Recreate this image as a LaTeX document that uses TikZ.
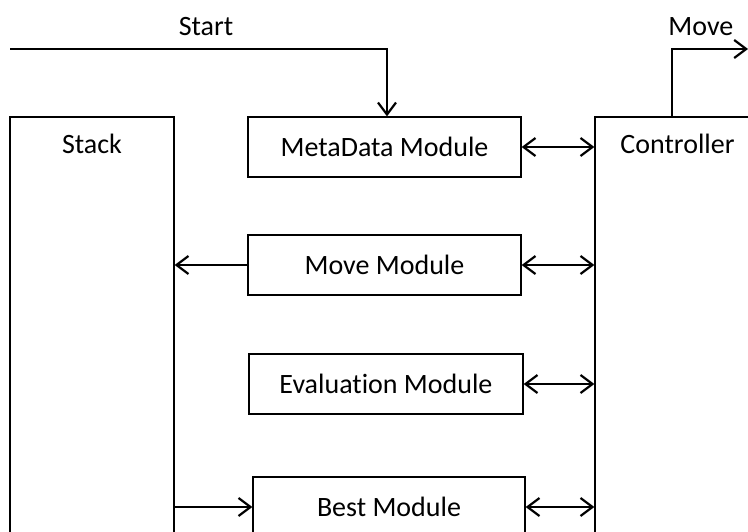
\documentclass[tikz,border=0pt]{standalone}
\usepackage{fontspec}
\setmainfont{Carlito}[Ligatures=NoCommon]
\usetikzlibrary{arrows.meta, positioning}

\tikzset{
  module/.style={draw, rectangle, line width=0.65pt, minimum width=136.5pt, minimum height=30pt, inner sep=0pt},
  unit/.style={draw, rectangle, line width=0.65pt, minimum height=221.5pt, inner sep=0pt},
  link/.style={line width=1.1pt}
}

\begin{document}
\begin{tikzpicture}[x=0.5pt, y=-0.5pt, font=\fontsize{14}{17}\selectfont, >={Straight Barb[length=6pt,width=9pt]}]
            \useasboundingbox (0,0) rectangle (748,531);
            \clip (0,0) rectangle (748,531);

            \node (stack) [unit, minimum width=82pt, label={[anchor=center,yshift=-14pt]north:Stack}] at (92,338.5) {};
            \node (ctrl) [unit, minimum width=82.5pt, label={[anchor=center,yshift=-14pt]north:Controller}] at (677.5,338.5) {};

            \node (meta) [module] at (384.5,147) {MetaData Module};
            \node (move) [module] at (384.5,265) {Move Module};
            \node (eval) [module, minimum width=137pt] at (386,384) {Evaluation Module};
            \node (best) [module, minimum width=136pt] at (389,507) {Best Module};

            \coordinate (startin) at (10,49);
            \coordinate (moveout) at (748,49);

            \draw[->,link] (startin) -| ([xshift=1.25pt]meta.north) node[pos=0.26,above=3pt] {Start};
            \draw[->,link] ([xshift=-2.75pt]ctrl.north) |- (moveout) node[pos=0.69,above=3pt] {Move};

            \draw[<->,link] (meta.east) -- (meta.east -| ctrl.west);
            \draw[<->,link] (move.east) -- (move.east -| ctrl.west);
            \draw[<->,link] (eval.east) -- (eval.east -| ctrl.west);
            \draw[<->,link] (best.east) -- (best.east -| ctrl.west);

            \draw[->,link] (move.west) -- (move.west -| stack.east);
            \draw[->,link] (best.west -| stack.east) -- (best.west);
        \end{tikzpicture}
\end{document}
